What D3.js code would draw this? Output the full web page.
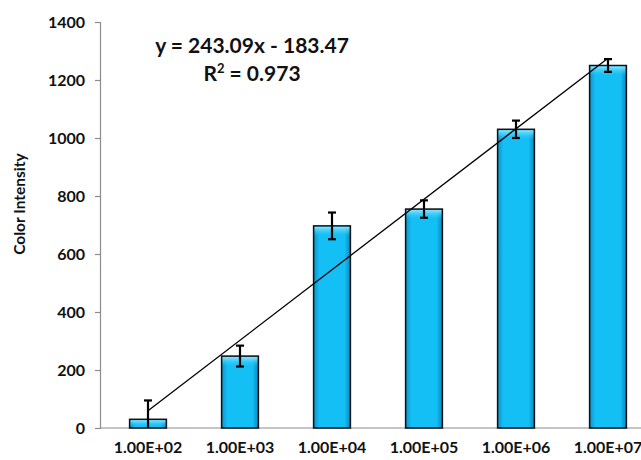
<!DOCTYPE html>
<html>
<head>
<meta charset="utf-8">
<script src="https://cdnjs.cloudflare.com/ajax/libs/d3/7.8.5/d3.min.js"></script>
<style>
  body { margin: 0; background: #fff; }
  text { font-family: Lato, "Open Sans", sans-serif; font-weight: bold; }
</style>
</head>
<body>
<div class="chart"></div>
<script>
var categories = ["1.00E+02", "1.00E+03", "1.00E+04", "1.00E+05", "1.00E+06", "1.00E+07"];
var values = [30, 248, 697, 755, 1030, 1250];
var errors = [65, 36, 46, 30, 30, 22];
var yTicks = [0, 200, 400, 600, 800, 1000, 1200, 1400];
var slope = 243.09, intercept = -183.47;

var width = 641, height = 460;
var margin = {top: 22, left: 100, bottom: 32};
var plotH = height - margin.top - margin.bottom;

var svg = d3.select(".chart").append("svg")
    .attr("width", width)
    .attr("height", height);

var defs = svg.append("defs");
var grad = defs.append("linearGradient").attr("id", "barGrad")
    .attr("x1", "0").attr("x2", "1").attr("y1", "0").attr("y2", "0");
grad.append("stop").attr("offset", "0").attr("stop-color", "#0a93c8");
grad.append("stop").attr("offset", "0.16").attr("stop-color", "#14bff5");
grad.append("stop").attr("offset", "0.84").attr("stop-color", "#14bff5");
grad.append("stop").attr("offset", "1").attr("stop-color", "#0a88bb");
var topGrad = defs.append("linearGradient").attr("id", "topGrad")
    .attr("x1", "0").attr("x2", "0").attr("y1", "0").attr("y2", "1");
topGrad.append("stop").attr("offset", "0").attr("stop-color", "#8ee3fd");
topGrad.append("stop").attr("offset", "1").attr("stop-color", "#14bff5").attr("stop-opacity", 0);

var x = d3.scaleBand().domain(categories).range([102, 654]).paddingInner(0.6).paddingOuter(0.3);
var y = d3.scaleLinear().domain([0, 1400]).range([margin.top + plotH, margin.top]);

var data = categories.map(function(c, i) {
    return {cat: c, value: values[i], err: errors[i]};
});
function cx(d) { return x(d.cat) + x.bandwidth() / 2; }

// y axis
var yAxis = d3.axisLeft(y).tickValues(yTicks).tickFormat(d3.format("d")).tickSize(5).tickPadding(10);
var gy = svg.append("g")
    .attr("transform", "translate(" + margin.left + ",0)")
    .call(yAxis);
gy.selectAll("path, line").attr("stroke", "#8c8c8c").attr("stroke-width", 1.2);
gy.selectAll("text").style("font-size", "16px").attr("fill", "#111");

// x axis
var gx = svg.append("g")
    .attr("transform", "translate(0," + y(0) + ")")
    .call(d3.axisBottom(x).tickSize(0).tickPadding(14));
gx.select(".domain").attr("d", "M" + margin.left + ",0H" + width).attr("stroke", "#8c8c8c").attr("stroke-width", 1.2);
gx.selectAll("text").style("font-size", "16px").attr("fill", "#111");

// bars
var bars = svg.append("g").selectAll("g.bar")
    .data(data)
    .enter().append("g").attr("class", "bar");
bars.append("rect")
    .attr("x", function(d) { return x(d.cat); })
    .attr("y", function(d) { return y(d.value); })
    .attr("width", x.bandwidth())
    .attr("height", function(d) { return y(0) - y(d.value); })
    .attr("fill", "url(#barGrad)")
    .attr("stroke", "#111")
    .attr("stroke-width", 1.5);
bars.append("rect")
    .attr("x", function(d) { return x(d.cat) + 1; })
    .attr("y", function(d) { return y(d.value) + 1; })
    .attr("width", x.bandwidth() - 2)
    .attr("height", function(d) { return Math.min(10, y(0) - y(d.value) - 2); })
    .attr("fill", "url(#topGrad)");

// error bars
var eb = svg.append("g").selectAll("g.err")
    .data(data)
    .enter().append("g").attr("class", "err")
    .attr("stroke", "#000").attr("stroke-width", 2.2);
eb.append("line")
    .attr("x1", cx).attr("x2", cx)
    .attr("y1", function(d) { return y(d.value + d.err); })
    .attr("y2", function(d) { return y(Math.max(0, d.value - d.err)); });
eb.append("line")
    .attr("x1", function(d) { return cx(d) - 4; })
    .attr("x2", function(d) { return cx(d) + 4; })
    .attr("y1", function(d) { return y(d.value + d.err); })
    .attr("y2", function(d) { return y(d.value + d.err); });
eb.filter(function(d) { return d.value - d.err > 0; }).append("line")
    .attr("x1", function(d) { return cx(d) - 4; })
    .attr("x2", function(d) { return cx(d) + 4; })
    .attr("y1", function(d) { return y(d.value - d.err); })
    .attr("y2", function(d) { return y(d.value - d.err); });

// trendline
var n = data.length;
svg.append("line")
    .attr("x1", cx(data[0])).attr("y1", y(slope * 1 + intercept))
    .attr("x2", cx(data[n - 1])).attr("y2", y(slope * n + intercept))
    .attr("stroke", "#000").attr("stroke-width", 1.3);

// equation
svg.append("text").attr("x", 252).attr("y", 53).attr("text-anchor", "middle")
    .style("font-size", "21px").attr("fill", "#111")
    .text("y = 243.09x - 183.47");
var r2 = svg.append("text").attr("x", 252).attr("y", 81).attr("text-anchor", "middle")
    .style("font-size", "21px").attr("fill", "#111");
r2.append("tspan").text("R");
r2.append("tspan").style("font-size", "13px").attr("dy", -8).text("2");
r2.append("tspan").attr("dy", 8).text(" = 0.973");

// y label
svg.append("text")
    .attr("transform", "translate(25,204) rotate(-90)")
    .attr("text-anchor", "middle")
    .style("font-size", "15.5px").attr("fill", "#111")
    .text("Color Intensity");
</script>
</body>
</html>
